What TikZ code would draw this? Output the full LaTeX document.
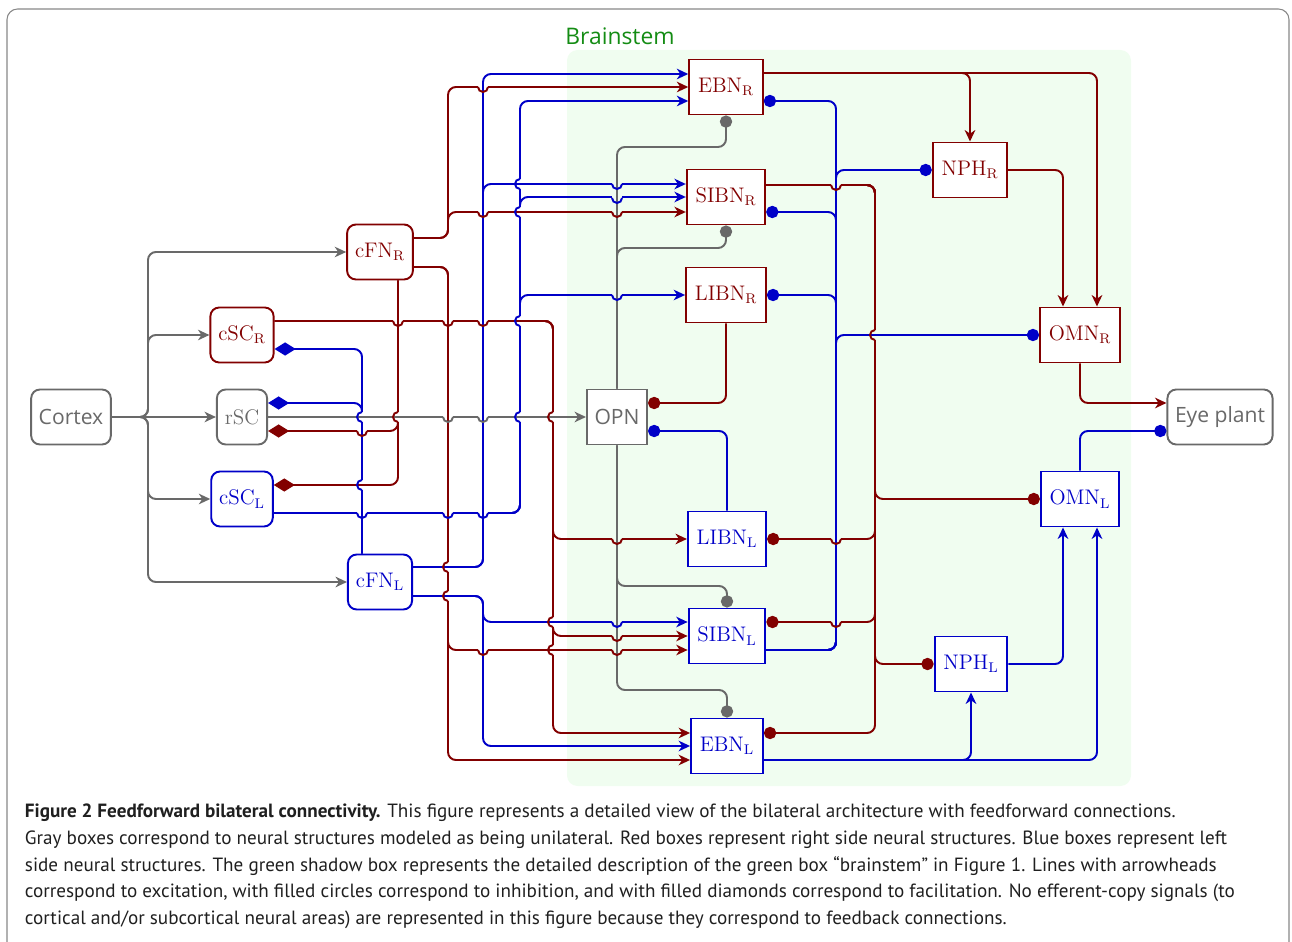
\documentclass[tikz,border=0pt]{standalone}
\usepackage{fontspec}
\newfontfamily\labelsf{Open Sans}
\newfontfamily\captionsf{PT Sans}
\usepackage{tikz}
\usetikzlibrary{arrows.meta}
\definecolor{rd}{RGB}{130,0,0}
\definecolor{bl}{RGB}{0,0,200}
\definecolor{gy}{RGB}{105,105,105}
\definecolor{bsfill}{RGB}{240,253,240}
\definecolor{bstext}{RGB}{20,140,20}
\newcommand{\hoph}[5]{%
  \draw[line width=2.8pt,#5] (#1-4.6,#2) -- (#1+4.6,#2);
  \draw[line width=1.1pt,#4] (#1,#2-6) -- (#1,#2+6);
  \draw[line width=1.1pt,#3] (#1-5,#2) arc[start angle=180,end angle=0,radius=5];}
\newcommand{\hopv}[5]{%
  \draw[line width=2.8pt,#5] (#1,#2-4.6) -- (#1,#2+4.6);
  \draw[line width=1.1pt,#4] (#1-6,#2) -- (#1+6,#2);
  \draw[line width=1.1pt,#3] (#1,#2-5) arc[start angle=270,end angle=90,radius=5];}

\begin{document}
\begin{tikzpicture}[x=0.02cm, y=-0.02cm, line width=1.1pt,
    nuc/.style={draw=#1, text=#1, fill=white, minimum height=1.1cm, inner xsep=5pt, font=\fontsize{12}{14}\selectfont},
    rnuc/.style={nuc=#1, rounded corners=5pt, inner xsep=4.5pt},
    snuc/.style={nuc=#1, inner xsep=4.3pt, font=\labelsf\fontsize{12}{14}\selectfont},
    link/.style={draw=#1, rounded corners=4.5pt},
    exc/.style={-{Stealth[length=6.5pt,width=6pt,inset=2pt]}},
    inh/.style={-{Circle[length=7pt]}},
    fac/.style={-{Diamond[length=12pt,width=7.5pt]}}]
  \useasboundingbox (0,0) rectangle (1292,942);
  \draw[gy!80, line width=0.6pt, rounded corners=6pt] (7,9) rectangle (1289,990);
  \fill[bsfill, rounded corners=6pt] (567,50) rectangle (1131,786);
  \node[text=bstext, font=\labelsf\fontsize{13}{15}\selectfont] (bstitle) at (620,36) {Brainstem};

  \node[snuc=gy, rounded corners=5pt] (Cortex) at (71,417) {Cortex};
  \node[rnuc=rd] (cSCR) at (242,335) {cSC$_\mathrm{R}$};
  \node[rnuc=gy] (rSC) at (242,417) {rSC};
  \node[rnuc=bl] (cSCL) at (242,499) {cSC$_\mathrm{L}$};
  \node[rnuc=rd] (cFNR) at (380,252) {cFN$_\mathrm{R}$};
  \node[rnuc=bl] (cFNL) at (380,582) {cFN$_\mathrm{L}$};
  \node[nuc=rd] (EBNR) at (726,87) {EBN$_\mathrm{R}$};
  \node[nuc=rd] (SIBNR) at (726,197) {SIBN$_\mathrm{R}$};
  \node[nuc=rd] (LIBNR) at (726,295) {LIBN$_\mathrm{R}$};
  \node[snuc=gy] (OPN) at (617,417) {OPN};
  \node[nuc=bl] (LIBNL) at (727,539) {LIBN$_\mathrm{L}$};
  \node[nuc=bl] (SIBNL) at (727,636) {SIBN$_\mathrm{L}$};
  \node[nuc=bl] (EBNL) at (727,746) {EBN$_\mathrm{L}$};
  \node[nuc=rd] (NPHR) at (970,170) {NPH$_\mathrm{R}$};
  \node[nuc=rd] (OMNR) at (1080,335) {OMN$_\mathrm{R}$};
  \node[nuc=bl] (OMNL) at (1080,499) {OMN$_\mathrm{L}$};
  \node[nuc=bl] (NPHL) at (971,664) {NPH$_\mathrm{L}$};
  \node[snuc=gy, rounded corners=5pt] (Eye) at (1220,417) {Eye plant};

  \draw[link=gy, exc] (Cortex.east) -- (148,417) |- (cFNR.west);
  \draw[link=gy, exc] (Cortex.east) -- (148,417) |- (cSCR.west);
  \draw[link=gy, exc] (Cortex) -- (rSC);
  \draw[link=gy, exc] (Cortex.east) -- (148,417) |- (cSCL.west);
  \draw[link=gy, exc] (Cortex.east) -- (148,417) |- (cFNL.west);
  \draw[link=gy, exc] (rSC) -- (OPN);

  \draw[link=rd, exc] (cFNR.east |- 0,238) -- (448,238) |- (EBNR.west);
  \draw[link=rd, exc] (cFNR.east |- 0,238) -- (448,238) |- (SIBNR.west |- 0,212);
  \draw[link=rd, exc] (cFNR.east |- 0,267) -- (448,267) |- (SIBNL.west |- 0,650);
  \draw[link=rd, exc] (cFNR.east |- 0,267) -- (448,267) |- (EBNL.west |- 0,760);
  \draw[link=rd, fac] (cFNR.south -| 398,0) |- (rSC.east |- 0,431);
  \draw[link=rd, fac] (cFNR.south -| 398,0) |- (cSCL.east |- 0,485);
  \draw[link=rd, exc] (cSCR.east |- 0,321) -- (553,321) |- (LIBNL.west);
  \draw[link=rd, exc] (cSCR.east |- 0,321) -- (553,321) |- (SIBNL.west);
  \draw[link=rd, exc] (cSCR.east |- 0,321) -- (553,321) |- (EBNL.west |- 0,733);
  \draw[link=bl, exc] (cFNL.east |- 0,567) -- (483,567) |- (EBNR.west |- 0,74);
  \draw[link=bl, exc] (cFNL.east |- 0,567) -- (483,567) |- (SIBNR.west |- 0,184);
  \draw[link=bl, exc] (cFNL.east |- 0,596) -- (483,596) |- (SIBNL.west |- 0,622);
  \draw[link=bl, exc] (cFNL.east |- 0,596) -- (483,596) |- (EBNL.west);
  \draw[link=bl, fac] (cFNL.north -| 362,0) |- (cSCR.east |- 0,349);
  \draw[link=bl, fac] (cFNL.north -| 362,0) |- (rSC.east |- 0,403);
  \draw[link=bl, exc] (cSCL.east |- 0,513) -- (520,513) |- (EBNR.west |- 0,101);
  \draw[link=bl, exc] (cSCL.east |- 0,513) -- (520,513) |- (SIBNR.west);
  \draw[link=bl, exc] (cSCL.east |- 0,513) -- (520,513) |- (LIBNR.west);

  \draw[link=gy, inh] (OPN.north) |- (EBNR.south |- 0,147) -- (EBNR.south);
  \draw[link=gy, inh] (OPN.north) |- (SIBNR.south |- 0,248) -- (SIBNR.south);
  \draw[link=gy, inh] (OPN.south) |- (SIBNL.north |- 0,586) -- (SIBNL.north);
  \draw[link=gy, inh] (OPN.south) |- (EBNL.north |- 0,690) -- (EBNL.north);
  \draw[link=rd, inh] (LIBNR.south) |- (OPN.east |- 0,403);
  \draw[link=bl, inh] (LIBNL.north) |- (OPN.east |- 0,431);

  \draw[link=bl, inh] (SIBNL.east |- 0,650) -| (836,101) -- (EBNR.east |- 0,101);
  \draw[link=bl, inh] (SIBNL.east |- 0,650) -| (NPHR.west -| 836,0) -- (NPHR.west);
  \draw[link=bl, inh] (SIBNL.east |- 0,650) -| (836,212) -- (SIBNR.east |- 0,212);
  \draw[link=bl, inh] (SIBNL.east |- 0,650) -| (LIBNR.east -| 836,0) -- (LIBNR.east);
  \draw[link=bl, inh] (SIBNL.east |- 0,650) -| (OMNR.west -| 836,0) -- (OMNR.west);
  \draw[link=rd, inh] (SIBNR.east |- 0,185) -| (875,733) -- (EBNL.east |- 0,733);
  \draw[link=rd, inh] (SIBNR.east |- 0,185) -| (OMNL.west -| 875,0) -- (OMNL.west);
  \draw[link=rd, inh] (SIBNR.east |- 0,185) -| (LIBNL.east -| 875,0) -- (LIBNL.east);
  \draw[link=rd, inh] (SIBNR.east |- 0,185) -| (875,622) -- (SIBNL.east |- 0,622);
  \draw[link=rd, inh] (SIBNR.east |- 0,185) -| (NPHL.west -| 875,0) -- (NPHL.west);

  \draw[link=rd, exc] (EBNR.east |- 0,73) -| (NPHR.north);
  \draw[link=rd, exc] (EBNR.east |- 0,73) -| (OMNR.north -| 1097,0);
  \draw[link=rd, exc] (NPHR.east) -| (OMNR.north -| 1063,0);
  \draw[link=rd, exc] (OMNR.south) |- (Eye.west |- 0,403);
  \draw[link=bl, inh] (OMNL.north) |- (Eye.west |- 0,431);
  \draw[link=bl, exc] (EBNL.east |- 0,760) -| (NPHL.south);
  \draw[link=bl, exc] (EBNL.east |- 0,760) -| (OMNL.south -| 1097,0);
  \draw[link=bl, exc] (NPHL.east) -| (OMNL.south -| 1063,0);

  \hoph{483}{87}{rd}{bl}{white}
  \hoph{483}{212}{rd}{bl}{white}
  \hoph{617}{184}{bl}{gy}{bsfill}
  \hoph{617}{198}{bl}{gy}{bsfill}
  \hoph{617}{212}{rd}{gy}{bsfill}
  \hoph{617}{295}{bl}{gy}{bsfill}
  \hoph{398}{321}{rd}{rd}{white}
  \hoph{448}{321}{rd}{rd}{white}
  \hoph{483}{321}{rd}{bl}{white}
  \hoph{448}{417}{gy}{rd}{white}
  \hoph{483}{417}{gy}{bl}{white}
  \hoph{362}{431}{rd}{bl}{white}
  \hoph{362}{513}{bl}{bl}{white}
  \hoph{448}{513}{bl}{rd}{white}
  \hoph{483}{513}{bl}{bl}{white}
  \hoph{617}{539}{rd}{gy}{bsfill}
  \hoph{617}{622}{bl}{gy}{bsfill}
  \hoph{617}{636}{rd}{gy}{bsfill}
  \hoph{617}{650}{rd}{gy}{bsfill}
  \hoph{483}{650}{rd}{bl}{white}
  \hoph{836}{185}{rd}{bl}{bsfill}
  \hoph{836}{539}{rd}{bl}{bsfill}
  \hoph{836}{622}{rd}{bl}{bsfill}
  \hopv{520}{184}{bl}{bl}{white}
  \hopv{520}{212}{bl}{rd}{white}
  \hopv{520}{321}{bl}{rd}{white}
  \hopv{362}{417}{bl}{gy}{white}
  \hopv{398}{417}{rd}{gy}{white}
  \hopv{520}{417}{bl}{gy}{white}
  \hopv{553}{417}{rd}{gy}{white}
  \hopv{362}{485}{bl}{rd}{white}
  \hopv{448}{567}{rd}{bl}{white}
  \hopv{448}{596}{rd}{bl}{white}
  \hopv{553}{622}{rd}{bl}{white}
  \hopv{553}{650}{rd}{rd}{white}
  \hopv{875}{335}{rd}{bl}{bsfill}

  \node[anchor=north west, inner sep=0pt, align=left, text=black!88, font=\captionsf\fontsize{10.9}{15.2}\selectfont] (caption) at (24,803) {\textbf{Figure 2 Feedforward bilateral connectivity.} This figure represents a detailed view of the bilateral architecture with feedforward connections.\\
Gray boxes correspond to neural structures modeled as being unilateral. Red boxes represent right side neural structures. Blue boxes represent left\\
side neural structures. The green shadow box represents the detailed description of the green box “brainstem” in Figure 1. Lines with arrowheads\\
correspond to excitation, with filled circles correspond to inhibition, and with filled diamonds correspond to facilitation. No efferent-copy signals (to\\
cortical and/or subcortical neural areas) are represented in this figure because they correspond to feedback connections.};
\end{tikzpicture}
\end{document}
